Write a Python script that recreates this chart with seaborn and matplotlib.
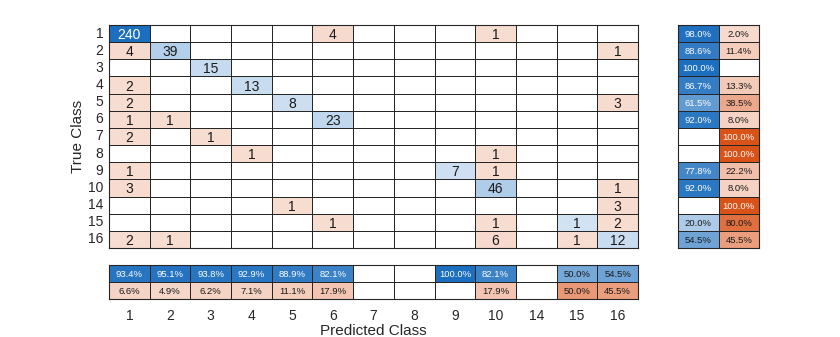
import numpy as np
import pandas as pd
import matplotlib
matplotlib.use("Agg")
import matplotlib.pyplot as plt
import seaborn as sns
from matplotlib.colors import LinearSegmentedColormap, ListedColormap

sns.set_theme(style="white")
plt.rcParams['font.family'] = ['Liberation Sans', 'DejaVu Sans']

classes = ["1", "2", "3", "4", "5", "6", "7", "8", "9", "10", "14", "15", "16"]
# confusion counts: rows = true class, cols = predicted class
row_1 = [240, 0, 0, 0, 0, 4, 0, 0, 0, 1, 0, 0, 0]
row_2 = [4, 39, 0, 0, 0, 0, 0, 0, 0, 0, 0, 0, 1]
row_3 = [0, 0, 15, 0, 0, 0, 0, 0, 0, 0, 0, 0, 0]
row_4 = [2, 0, 0, 13, 0, 0, 0, 0, 0, 0, 0, 0, 0]
row_5 = [2, 0, 0, 0, 8, 0, 0, 0, 0, 0, 0, 0, 3]
row_6 = [1, 1, 0, 0, 0, 23, 0, 0, 0, 0, 0, 0, 0]
row_7 = [2, 0, 1, 0, 0, 0, 0, 0, 0, 0, 0, 0, 0]
row_8 = [0, 0, 0, 1, 0, 0, 0, 0, 0, 1, 0, 0, 0]
row_9 = [1, 0, 0, 0, 0, 0, 0, 0, 7, 1, 0, 0, 0]
row_10 = [3, 0, 0, 0, 0, 0, 0, 0, 0, 46, 0, 0, 1]
row_14 = [0, 0, 0, 0, 1, 0, 0, 0, 0, 0, 0, 0, 3]
row_15 = [0, 0, 0, 0, 0, 1, 0, 0, 0, 1, 0, 1, 2]
row_16 = [2, 1, 0, 0, 0, 0, 0, 0, 0, 6, 0, 1, 12]

cm = np.array([row_1, row_2, row_3, row_4, row_5, row_6, row_7, row_8,
               row_9, row_10, row_14, row_15, row_16])
n = len(classes)

BLUE = np.array([28, 110, 190]) / 255
ORANGE = np.array([217, 83, 25]) / 255
WHITE = np.array([1, 1, 1])
EDGE = "#262626"


def tint(base, t):
    f = 0.2 + 0.8 * t
    return WHITE + (base - WHITE) * f


blue_cmap = LinearSegmentedColormap.from_list("b", [tint(BLUE, 0), tint(BLUE, 1)])
orange_cmap = LinearSegmentedColormap.from_list("o", [tint(ORANGE, 0), tint(ORANGE, 1)])
white_cmap = ListedColormap(["white"])

fig = plt.figure(figsize=(8.4, 3.37), dpi=100)
W, H = 840, 337


def axes_px(x0, y0, x1, y1):
    return fig.add_axes([x0 / W, 1 - y1 / H, (x1 - x0) / W, (y1 - y0) / H])


ax = axes_px(109, 25, 638, 248)
axr = axes_px(678, 25, 759, 248)
axb = axes_px(109, 265, 638, 299)

df = pd.DataFrame(cm, index=classes, columns=classes)
diag = np.eye(n, dtype=bool)
vmax = cm.max()

hm_kw = dict(cbar=False, linewidths=0.45, linecolor=EDGE)
sns.heatmap(np.zeros_like(cm), cmap=white_cmap, ax=ax, **hm_kw)
sns.heatmap(df, mask=~(diag & (cm > 0)), cmap=blue_cmap, vmin=0, vmax=vmax, ax=ax, **hm_kw)
sns.heatmap(df, mask=~(~diag & (cm > 0)), cmap=orange_cmap, vmin=0, vmax=vmax, ax=ax, **hm_kw)

for i in range(n):
    for j in range(n):
        v = cm[i, j]
        if v > 0:
            col = "white" if (i == j and v / vmax > 0.6) else "#1a1a1a"
            ax.text(j + 0.5, i + 0.5, str(v), ha="center", va="center_baseline",
                    fontsize=10, color=col)

ax.set_xticks([])
ax.set_yticks(np.arange(n) + 0.5)
ax.set_yticklabels(classes, rotation=0, fontsize=10, color="#262626")
ax.tick_params(axis="y", length=0, pad=4)
ax.set_xlabel("")
ax.set_ylabel("True Class", fontsize=11, color="#262626", labelpad=2)
for s in ax.spines.values():
    s.set_visible(True)
    s.set_color(EDGE)
    s.set_linewidth(0.8)

# row summary (recall / false negative rate)
row_tot = cm.sum(axis=1)
row_correct = np.diag(cm) / row_tot * 100
row_wrong = 100 - row_correct
rs = np.column_stack([row_correct, row_wrong])

col_tot = cm.sum(axis=0)
safe_tot = np.where(col_tot > 0, col_tot, 1)
col_correct = np.where(col_tot > 0, np.diag(cm) / safe_tot * 100, np.nan)
col_wrong = np.where(col_tot > 0, 100 - col_correct, np.nan)
cs = np.vstack([col_correct, col_wrong])


def summary(axx, data, blue_mask):
    sns.heatmap(np.zeros(data.shape), cmap=white_cmap, ax=axx, **hm_kw)
    d = np.nan_to_num(data)
    valid = d > 0
    sns.heatmap(d, mask=~(valid & blue_mask), cmap=blue_cmap, vmin=0, vmax=100, ax=axx, **hm_kw)
    sns.heatmap(d, mask=~(valid & ~blue_mask), cmap=orange_cmap, vmin=0, vmax=100, ax=axx, **hm_kw)
    r, c = data.shape
    for i in range(r):
        for j in range(c):
            v = d[i, j]
            if v > 0:
                if blue_mask[i, j]:
                    col = "white" if v > 58 else "#1a1a1a"
                else:
                    col = "white" if v > 90 else "#1a1a1a"
                axx.text(j + 0.5, i + 0.5, f"{v:.1f}%", ha="center", va="center_baseline",
                         fontsize=6.8, color=col)
    for s in axx.spines.values():
        s.set_visible(True)
        s.set_color(EDGE)
        s.set_linewidth(0.8)


rmask = np.zeros(rs.shape, dtype=bool)
rmask[:, 0] = True
summary(axr, rs, rmask)
axr.set_xticks([])
axr.set_yticks([])
axr.set_xlabel("")
axr.set_ylabel("")

cmask = np.zeros(cs.shape, dtype=bool)
cmask[0, :] = True
summary(axb, cs, cmask)
axb.set_yticks([])
axb.set_xticks(np.arange(n) + 0.5)
axb.set_xticklabels(classes, rotation=0, fontsize=10, color="#262626")
axb.tick_params(axis="x", length=0, pad=7)
axb.set_xlabel("Predicted Class", fontsize=11, color="#262626", labelpad=1)
axb.set_ylabel("")

fig.savefig("out.png", dpi=100)
